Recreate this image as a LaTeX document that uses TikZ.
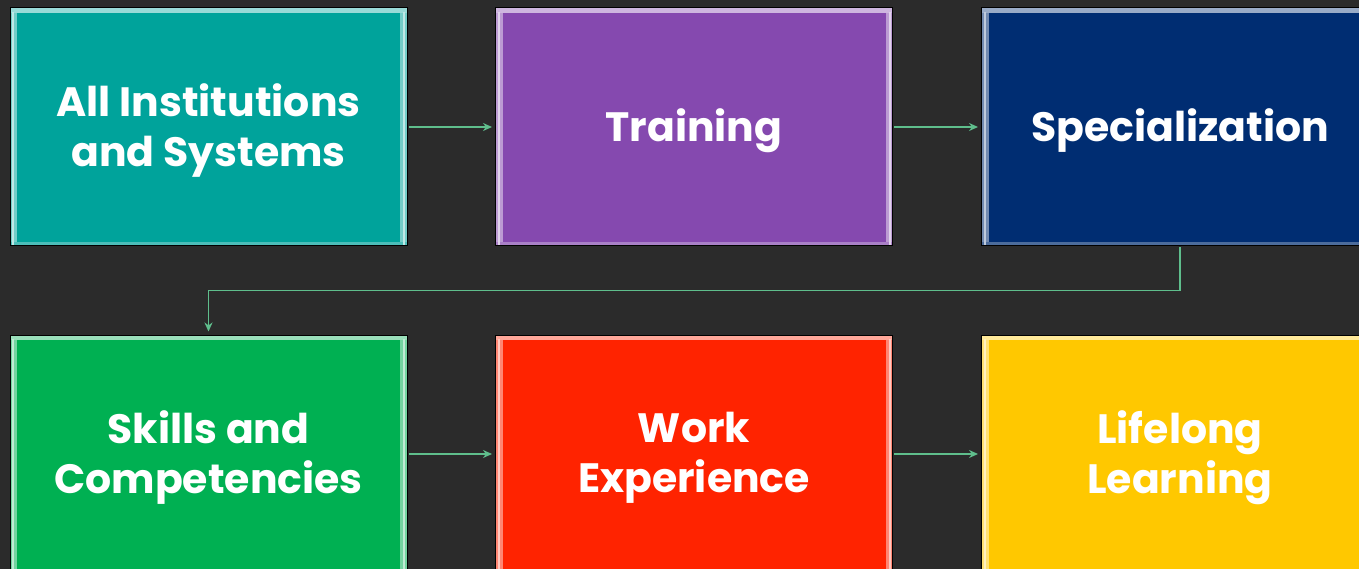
\documentclass[tikz,border=0pt]{standalone}
\usepackage{fontspec}
\setmainfont{Poppins}
\usetikzlibrary{arrows.meta}
\definecolor{bg}{HTML}{2B2B2B}
\definecolor{cteal}{HTML}{00A39B}
\definecolor{cpurple}{HTML}{8549AF}
\definecolor{cnavy}{HTML}{002D72}
\definecolor{cgreen}{HTML}{00B052}
\definecolor{cred}{HTML}{FF2300}
\definecolor{cyellow}{HTML}{FFC800}
\definecolor{conn}{HTML}{5FBE8C}
\tikzset{
  box/.style={rectangle, minimum width=397pt, minimum height=238pt, inner sep=0pt,
    fill=#1, draw=black, line width=1pt,
    path picture={
      \def\pb{path picture bounding box}
      \fill[#1!55!white] (\pb.south west) rectangle ([xshift=7pt]\pb.north west);
      \fill[#1!55!white] ([xshift=-7pt]\pb.south east) rectangle (\pb.north east);
      \fill[#1!40!white] ([yshift=-5pt]\pb.north west) rectangle (\pb.north east);
      \fill[#1!70!white] (\pb.south west) rectangle ([yshift=4pt]\pb.south east);
      \fill[#1!25!white] ([xshift=2pt]\pb.south west) rectangle ([xshift=4pt,yshift=-4pt]\pb.north west);
      \fill[#1!25!white] ([xshift=-4pt]\pb.south east) rectangle ([xshift=-2pt,yshift=-4pt]\pb.north east);
    }},
  lbl/.style={text=white, align=center, inner sep=0pt,
    font=\fontsize{41}{50}\selectfont\bfseries},
  link/.style={draw=conn, line width=1.5pt, -{Stealth[length=9pt,width=8pt]}, shorten >=3pt, shorten <=1pt}
}
\begin{document}
\begin{tikzpicture}[x=1pt,y=-1pt]
\fill[bg] (0,0) rectangle (1359,569);
\useasboundingbox (0,0) rectangle (1359,569);
\node[box=cteal] (b1) at (208.5,127) {};
\node[box=cpurple] (b2) at (694,127) {};
\node[box=cnavy] (b3) at (1180,127) {};
\node[box=cgreen] (b4) at (208.5,454) {};
\node[box=cred] (b5) at (694,454) {};
\node[box=cyellow] (b6) at (1180,454) {};
\node[lbl] (t1) at ([yshift=-4pt]b1.center) {All Institutions\\and Systems};
\node[lbl] (t2) at ([yshift=-4pt]b2.center) {Training};
\node[lbl] (t3) at ([yshift=-4pt]b3.center) {Specialization};
\node[lbl] (t4) at ([yshift=-4pt]b4.center) {Skills and\\Competencies};
\node[lbl] (t5) at ([yshift=-4pt]b5.center) {Work\\Experience};
\node[lbl] (t6) at ([yshift=-4pt]b6.center) {Lifelong\\Learning};
\draw[link] (b1) -- (b2);
\draw[link] (b2) -- (b3);
\draw[link] (b3.south) -- ++(0,44) -| (b4.north);
\draw[link] (b4) -- (b5);
\draw[link] (b5) -- (b6);
\end{tikzpicture}
\end{document}
